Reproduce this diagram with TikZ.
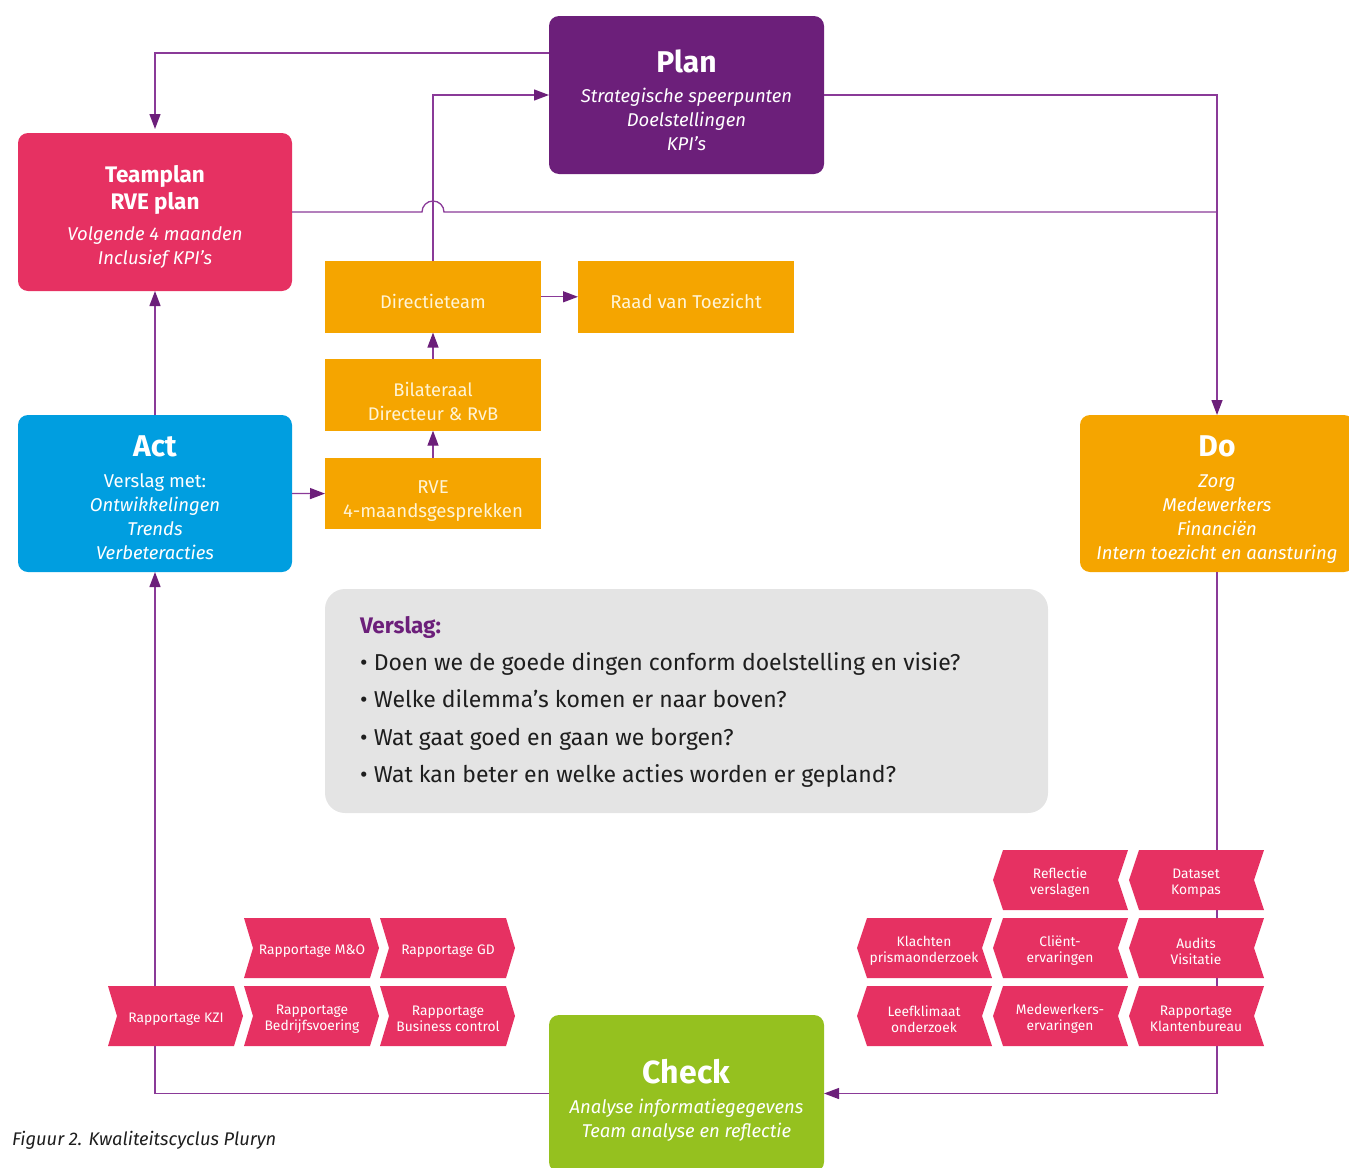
\documentclass[tikz,border=0pt]{standalone}
\usepackage{fontspec}
\setmainfont{Fira Sans}
\usetikzlibrary{arrows.meta,calc}
\definecolor{pinkc}{HTML}{E63162}
\definecolor{purplec}{HTML}{6C1F7A}
\definecolor{bluec}{HTML}{009EE0}
\definecolor{orangec}{HTML}{F5A500}
\definecolor{greenc}{HTML}{95C11F}
\definecolor{greyc}{HTML}{E4E4E4}
\definecolor{linec}{HTML}{8A3A98}
\definecolor{arrowc}{HTML}{6C1F7A}
\definecolor{creamc}{HTML}{FFF4D6}
\definecolor{darkt}{HTML}{1E1E1E}
\newcommand{\chevR}[4]{%
  \fill[pinkc] (#1,#2) -- (#1+126,#2) -- (#1+135,#2+30) -- (#1+126,#2+60) -- (#1,#2+60) -- (#1+9,#2+30) -- cycle;
  \node[chevtext] (#3) at (#1+68,#2+33) {#4};}
\newcommand{\chevL}[4]{%
  \fill[pinkc] (#1,#2+30) -- (#1+10,#2) -- (#1+135,#2) -- (#1+125,#2+30) -- (#1+135,#2+60) -- (#1+10,#2+60) -- cycle;
  \node[chevtext] (#3) at (#1+67,#2+33) {#4};}
\newcommand{\tfont}{\fontsize{30}{30}\selectfont\bfseries\upshape}
\newcommand{\tpfont}{\fontsize{22.5}{22.5}\selectfont\bfseries\upshape}
\begin{document}
\begin{tikzpicture}[x=1pt,y=-1pt,
  mainbox/.style={inner sep=0pt, outer sep=0pt, rounded corners=10pt, minimum width=274pt, minimum height=157pt},
  obox/.style={fill=orangec, inner sep=0pt, outer sep=0pt, minimum width=216pt, minimum height=71.5pt},
  boxtext/.style={text=white, align=center, inner sep=0pt, font=\fontsize{18.5}{24}\selectfont\itshape},
  otext/.style={text=creamc, align=center, inner sep=0pt, font=\fontsize{18.3}{24}\selectfont},
  chevtext/.style={text=white, align=center, inner sep=0pt, font=\fontsize{13.8}{16}\selectfont},
  bul/.style={anchor=base west, inner sep=0pt, text=darkt, font=\fontsize{23}{23}\selectfont},
  conn/.style={draw=linec, line width=1.3pt},
  arr/.style={conn, -{Triangle[length=15pt,width=11pt,color=arrowc]}}
]
\useasboundingbox (0,0) rectangle (1349,1167);

% main boxes
\node[mainbox, fill=purplec, minimum width=275pt, minimum height=158pt] (plan) at (686.5,95) {};
\node[mainbox, fill=pinkc, minimum height=158pt] (tp) at (155,212) {};
\node[mainbox, fill=bluec] (act) at (155,493.5) {};
\node[mainbox, fill=orangec] (do) at (1217,493.5) {};
\node[mainbox, fill=greenc, minimum width=275pt] (check) at (686.5,1093.5) {};

% orange boxes
\node[obox] (dir) at (433,296.8) {};
\node[obox] (raad) at (686,296.8) {};
\node[obox] (bil) at (433,394.9) {};
\node[obox] (rve) at (433,493.6) {};

% grey report box
\node[fill=greyc, rounded corners=20pt, minimum width=723pt, minimum height=224pt, inner sep=0pt] (verslag) at (686.5,701) {};

% connectors
\draw[arr, shorten >=4pt] ([yshift=42pt]plan.west) -| (tp.north);
\draw[arr] (dir.north) |- (plan.west);
\draw[arr] (plan.east) -| (do.north);
\draw[conn] (tp.east) -- ($(dir.north |- tp.east)+(-11,0)$) arc[start angle=180, end angle=0, radius=11pt] -- (do.north |- tp.east);
\draw[arr] (act.north) -- (tp.south);
\draw[arr] (act.east) -- (rve.west);
\draw[arr] (rve.north) -- (bil.south);
\draw[arr] (bil.north) -- (dir.south);
\draw[arr] (dir.east) -- (raad.west);
\draw[arr] (do.south) |- (check.east);
\draw[arr] (check.west) -| (act.south);

% box texts
\node[boxtext] (plant) at ([yshift=-5pt]plan.center) {\tfont Plan\\[6pt] Strategische speerpunten\\ Doelstellingen\\ KPI’s};
\node[boxtext] (tpt) at ([yshift=-5pt]tp.center) {\tpfont Teamplan\\[3pt] \tpfont RVE plan\\[7pt] Volgende 4 maanden\\ Inclusief KPI’s};
\node[boxtext] (actt) at ([yshift=-4.5pt]act.center) {\tfont Act\\[7pt] \upshape Verslag met:\\ Ontwikkelingen\\ Trends\\ Verbeteracties};
\node[boxtext] (dot) at ([yshift=-5.8pt]do.center) {\tfont Do\\[7pt] Zorg\\ Medewerkers\\ Financiën\\ Intern toezicht en aansturing};
\node[boxtext] (checkt) at ([yshift=-6.5pt]check.center) {\fontsize{32}{32}\selectfont\bfseries\upshape Check\\[6pt] Analyse informatiegegevens\\ Team analyse en reflectie};

\node[otext] (dirt) at ([yshift=-5pt]dir.center) {Directieteam};
\node[otext, font=\fontsize{18.6}{24}\selectfont] (raadt) at ([yshift=-5pt]raad.center) {Raad van Toezicht};
\node[otext] (bilt) at ([yshift=-6.3pt]bil.center) {Bilateraal\\ Directeur \& RvB};
\node[otext, font=\fontsize{18.6}{24}\selectfont] (rvet) at ([yshift=-7.5pt]rve.center) {RVE\\ 4-maandsgesprekken};

% report text
\node[anchor=base west, inner sep=0pt, text=purplec, font=\fontsize{22.5}{22.5}\selectfont\bfseries] (vtitle) at (360,633) {Verslag:};
\node[bul] (b1) at (360,670) {\textbullet\ Doen we de goede dingen conform doelstelling en visie?};
\node[bul] (b2) at (360,707.5) {\textbullet\ Welke dilemma’s komen er naar boven?};
\node[bul] (b3) at (360,745) {\textbullet\ Wat gaat goed en gaan we borgen?};
\node[bul] (b4) at (360,782.5) {\textbullet\ Wat kan beter en welke acties worden er gepland?};

% chevrons left group
\chevR{244}{918}{cmo}{Rapportage M\&O}
\chevR{380}{918}{cgd}{Rapportage GD}
\chevR{108}{986}{ckzi}{Rapportage KZI}
\chevR{244}{986}{cbv}{Rapportage\\ Bedrijfsvoering}
\chevR{380}{986}{cbc}{Rapportage\\ Business control}

% chevrons right group
\chevL{993}{850}{crefl}{Reflectie\\ verslagen}
\chevL{1129}{850}{cdata}{Dataset\\ Kompas}
\chevL{857}{918}{cklacht}{Klachten\\ prismaonderzoek}
\chevL{993}{918}{cclient}{Cliënt-\\ ervaringen}
\chevL{1129}{918}{caudit}{Audits\\ Visitatie}
\chevL{857}{986}{cleef}{Leefklimaat\\ onderzoek}
\chevL{993}{986}{cmedew}{Medewerkers-\\ ervaringen}
\chevL{1129}{986}{crapkl}{Rapportage\\ Klantenbureau}

% caption
\node[anchor=base west, inner sep=0pt, text=darkt, font=\fontsize{18.3}{18}\selectfont\itshape] (cap) at (12,1145) {Figuur 2. Kwaliteitscyclus Pluryn};
\end{tikzpicture}
\end{document}
